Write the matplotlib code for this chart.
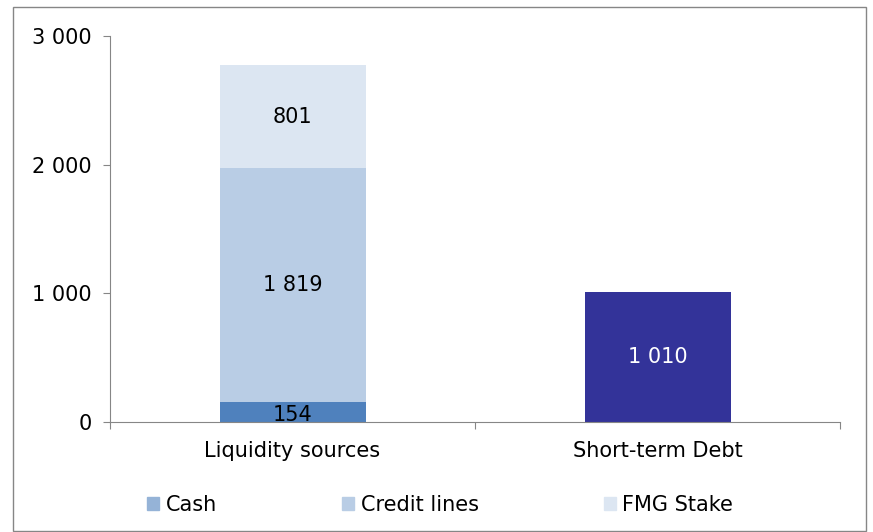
import matplotlib.pyplot as plt
from matplotlib.patches import Rectangle, Patch
from matplotlib.ticker import FuncFormatter

# --------- data -------------
categories = ["Liquidity sources", "Short-term Debt"]
cash = [154, 0]
credit_lines = [1819, 0]
fmg_stake = [801, 0]
short_term_debt = [0, 1010]

c_cash = "#4F81BD"
c_cash_legend = "#95B3D7"
c_credit = "#B9CDE5"
c_fmg = "#DCE6F2"
c_debt = "#333399"
grey = "#868686"


def fmt(v):
    return "{:,}".format(int(v)).replace(",", " ")


plt.rcParams['font.family'] = 'sans-serif'
plt.rcParams['font.sans-serif'] = ['Verdana', 'DejaVu Sans']
fs = 15

fig = plt.figure(figsize=(8.73, 5.32), dpi=100)
ax = fig.add_axes([110 / 873, 1 - 422 / 532, 730 / 873, 386 / 532])

x = list(range(len(categories)))
w = 0.4

# stacked bar for liquidity sources, single bar for debt
ax.bar(x[0], cash[0], w, color=c_cash)
ax.bar(x[0], credit_lines[0], w, bottom=cash[0], color=c_credit)
ax.bar(x[0], fmg_stake[0], w, bottom=cash[0] + credit_lines[0], color=c_fmg)
ax.bar(x[1], short_term_debt[1], w, color=c_debt)

ax.text(x[0], cash[0] / 2 - 25, fmt(cash[0]), ha="center", va="center", fontsize=fs)
ax.text(x[0], cash[0] + credit_lines[0] / 2, fmt(credit_lines[0]), ha="center", va="center", fontsize=fs)
ax.text(x[0], cash[0] + credit_lines[0] + fmg_stake[0] / 2, fmt(fmg_stake[0]),
        ha="center", va="center", fontsize=fs)
ax.text(x[1], short_term_debt[1] / 2, fmt(short_term_debt[1]), ha="center", va="center",
        fontsize=fs, color="white")

ax.set_xlim(-0.5, 1.5)
ax.set_ylim(0, 3000)
ax.set_yticks([0, 1000, 2000, 3000])
ax.yaxis.set_major_formatter(FuncFormatter(lambda v, p: fmt(v)))

# category ticks between groups, labels centered on bars
ax.set_xticks([-0.5, 0.5, 1.5])
ax.set_xticklabels([])
ax.set_xticks(x, minor=True)
ax.set_xticklabels(categories, minor=True, fontsize=fs)
ax.tick_params(axis="x", which="minor", length=0, pad=14)
ax.tick_params(axis="x", which="major", length=5, color=grey, direction="out")
ax.tick_params(axis="y", length=5, color=grey, direction="out", labelsize=fs, pad=8)

for s in ["top", "right"]:
    ax.spines[s].set_visible(False)
for s in ["left", "bottom"]:
    ax.spines[s].set_color(grey)

handles = [Patch(color=c_cash_legend, label="Cash"),
           Patch(color=c_credit, label="Credit lines"),
           Patch(color=c_fmg, label="FMG Stake")]
fig.legend(handles=handles, loc="center", bbox_to_anchor=(0.504, 1 - 505 / 532), ncol=3,
           frameon=False, fontsize=fs, handlelength=0.6, handleheight=0.6,
           handletextpad=0.3, columnspacing=6.0)

# outer chart border
fig.patches.append(Rectangle((13 / 873, 0.002), 853 / 873, 1 - 7 / 532 - 0.002,
                             transform=fig.transFigure, fill=False, edgecolor=grey, lw=1))

fig.savefig("out.png", dpi=100)
